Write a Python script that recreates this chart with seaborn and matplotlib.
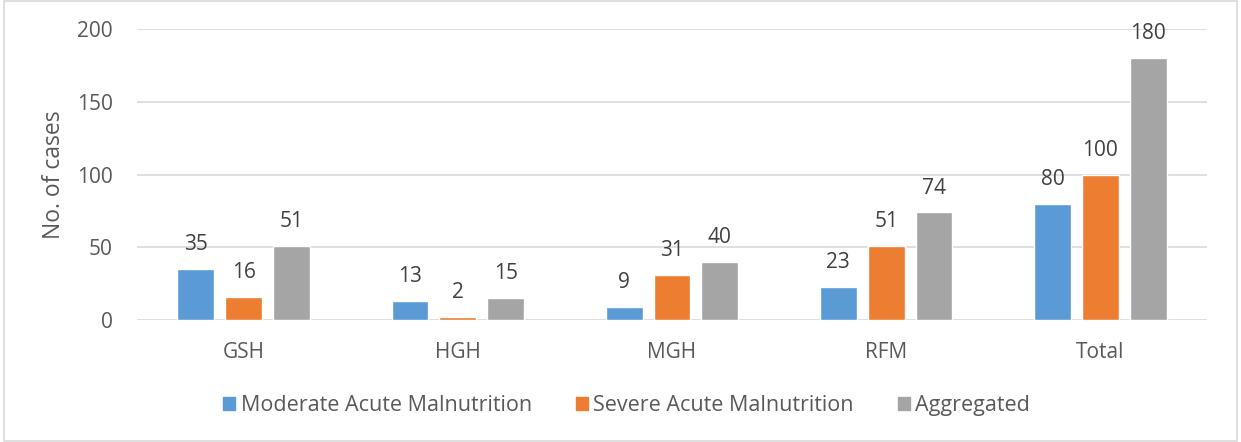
import pandas as pd
import matplotlib.pyplot as plt
import seaborn as sns
from matplotlib.patches import Rectangle

# Data
sites = ['GSH', 'HGH', 'MGH', 'RFM', 'Total']
series = ['Moderate Acute Malnutrition', 'Severe Acute Malnutrition', 'Aggregated']
moderate = [35, 13, 9, 23, 80]
severe = [16, 2, 31, 51, 100]
aggregated = [51, 15, 40, 74, 180]
colors = ['#5b9bd5', '#ed7d31', '#a5a5a5']

df = pd.DataFrame({
    'Site': sites * 3,
    'Type': [s for s in series for _ in sites],
    'Cases': moderate + severe + aggregated,
})

sns.set_style('white')
plt.rcParams['font.family'] = ['Open Sans', 'DejaVu Sans']
text_col = '#595959'

fig = plt.figure(figsize=(12.41, 4.42), dpi=100)
ax = fig.add_axes([0.110, 0.276, 0.863, 0.658])

sns.barplot(data=df, x='Site', y='Cases', hue='Type', hue_order=series,
            palette=colors, width=0.67, gap=0.23, ax=ax, legend=False,
            saturation=1)

for cont in ax.containers:
    ax.bar_label(cont, padding=10, fontsize=15, color='#404040')

ax.set_ylim(0, 200)
ax.set_yticks([0, 50, 100, 150, 200])
ax.set_xlim(-0.5, 4.5)
ax.yaxis.grid(True, color='#d9d9d9', linewidth=1.2)
ax.set_axisbelow(True)
for s in ax.spines.values():
    s.set_visible(False)
ax.tick_params(axis='both', length=0, labelsize=15, colors=text_col)
ax.tick_params(axis='x', pad=16)
ax.tick_params(axis='y', pad=17)
ax.set_xlabel('')
ax.set_ylabel('No. of cases', fontsize=16.5, color=text_col, labelpad=8)

handles = [Rectangle((0, 0), 1, 1, color=c) for c in colors]
fig.legend(handles, series, loc='center', bbox_to_anchor=(0.505, 0.083), ncol=3,
           frameon=False, fontsize=15.5, handlelength=0.55, handleheight=0.55,
           handletextpad=0.25, columnspacing=2.05, labelcolor=text_col)

# light frame around the figure
fig.patches.append(Rectangle((0.003, 0.003), 0.994, 0.994, transform=fig.transFigure,
                             fill=False, edgecolor='#d9d9d9', linewidth=1.2))

fig.savefig('out.png', dpi=100)
